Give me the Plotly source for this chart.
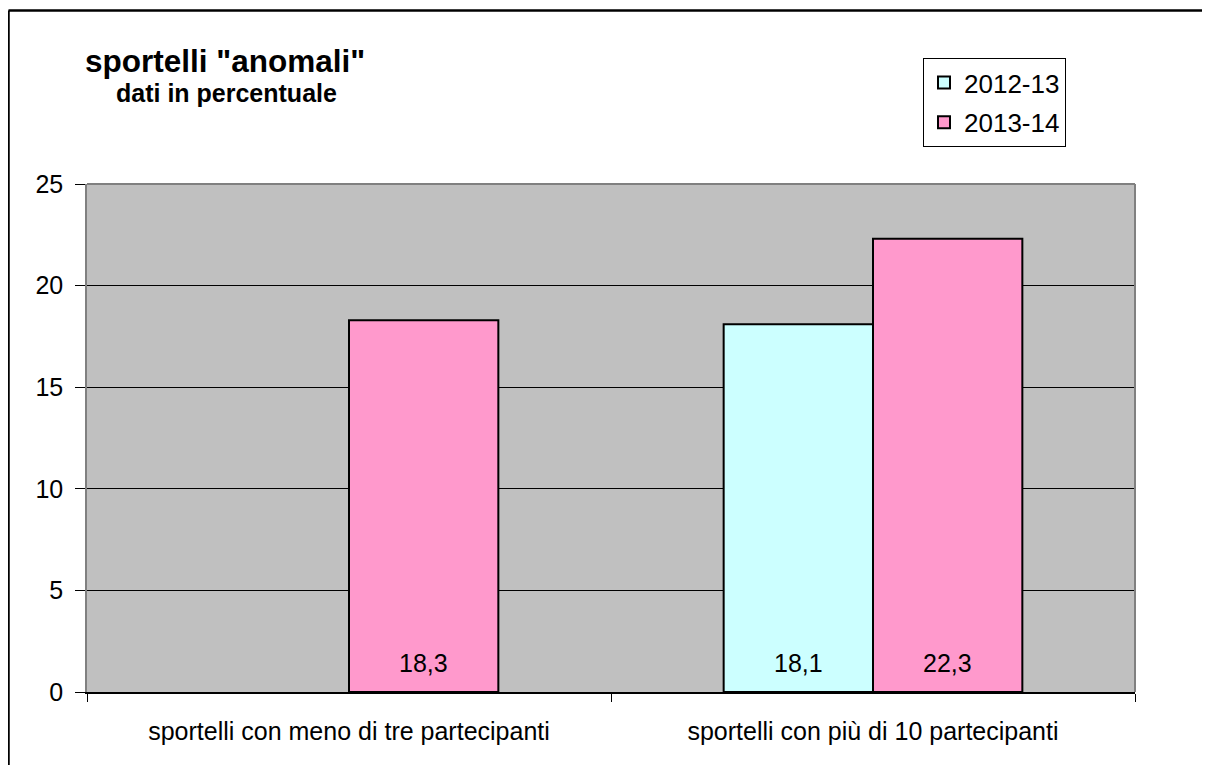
import plotly.graph_objects as go

categories = ["sportelli con meno di tre partecipanti", "sportelli con più di 10 partecipanti"]
series_names = ["2012-13", "2013-14"]
values_2012_13 = [None, 18.1]
values_2013_14 = [18.3, 22.3]
y_ticks = [0, 5, 10, 15, 20, 25]

FONT = "Arial, Liberation Sans, sans-serif"
# page body has an 8px margin, so the figure is drawn 8px smaller and offset
OFF = 8
W, H = 1211 - 2 * OFF, 773 - 2 * OFF
# plot area in screen pixels: x 87..1135, y 184..692
L, T = 87 - OFF, 184 - OFF
R = W - (1135 - OFF)
B = H - (692 - OFF)
pw, ph = W - L - R, H - T - B
BARGAP = 0.43


def px_x(sx):
    return (sx - 87) / pw


def px_y(sy):
    return (692 - sy) / ph


fig = go.Figure()
colors = ["#CCFFFF", "#FF99CC"]
all_vals = [values_2012_13, values_2013_14]
for name, vals, color in zip(series_names, all_vals, colors):
    fig.add_trace(go.Bar(
        name=name, x=categories, y=vals,
        marker=dict(color=color, line=dict(color="black", width=2)),
        legendgroup=name,
    ))

# value labels near the base of each bar
cat_w = pw / len(categories)
bar_w = cat_w * (1 - BARGAP) / len(series_names)
annotations = []
for si, vals in enumerate(all_vals):
    shift = (si - (len(series_names) - 1) / 2) * bar_w
    for cat, v in zip(categories, vals):
        if v is None:
            continue
        annotations.append(dict(
            x=cat, y=0, xref="x", yref="y", text=f"{v:.1f}".replace(".", ","),
            showarrow=False, xshift=shift, yshift=29, xanchor="center", yanchor="middle",
            font=dict(family=FONT, size=25, color="black")))

annotations += [
    dict(text='<b>sportelli "anomali"</b>', xref="paper", yref="paper",
         x=px_x(225), y=px_y(61), xanchor="center", yanchor="middle",
         showarrow=False, font=dict(family=FONT, size=31.5, color="black")),
    dict(text="<b>dati in percentuale</b>", xref="paper", yref="paper",
         x=px_x(226), y=px_y(93), xanchor="center", yanchor="middle",
         showarrow=False, font=dict(family=FONT, size=25, color="black")),
]

fig.update_layout(
    width=W, height=H,
    margin=dict(l=L, r=R, t=T, b=B, autoexpand=False),
    paper_bgcolor="white", plot_bgcolor="#C0C0C0",
    barmode="group", bargap=BARGAP, bargroupgap=0,
    separators=",.",
    font=dict(family=FONT, size=25, color="black"),
    showlegend=True,
    legend=dict(x=px_x(923), y=px_y(58), xanchor="left", yanchor="top",
                bgcolor="white", bordercolor="black", borderwidth=1,
                font=dict(family=FONT, size=26, color="black"),
                traceorder="grouped", tracegroupgap=3),
    xaxis=dict(type="category", showline=True, linecolor="black", linewidth=1.5,
               ticks="outside", tickson="boundaries", ticklen=8, tickcolor="black",
               ticklabelstandoff=16,
               tickfont=dict(family=FONT, size=25, color="black"), showgrid=False),
    yaxis=dict(range=[0, 25], tickvals=y_ticks, showline=True, linecolor="#808080",
               linewidth=1.5, ticks="outside", ticklen=10, tickcolor="black",
               ticklabelstandoff=7,
               showgrid=True, gridcolor="black", gridwidth=1, zeroline=False,
               tickfont=dict(family=FONT, size=25, color="black")),
    shapes=[
        dict(type="line", xref="paper", yref="paper", x0=0, x1=1, y0=1, y1=1,
             line=dict(color="#808080", width=2), layer="above"),
        dict(type="line", xref="paper", yref="paper", x0=1, x1=1, y0=0, y1=1,
             line=dict(color="#808080", width=2), layer="above"),
        dict(type="line", xref="paper", yref="paper", x0=px_x(8.5), x1=px_x(1202),
             y0=px_y(10.5), y1=px_y(10.5), line=dict(color="black", width=2.5)),
        dict(type="line", xref="paper", yref="paper", x0=px_x(8.5), x1=px_x(8.5),
             y0=px_y(10.5), y1=px_y(800), line=dict(color="black", width=2.5)),
    ],
    annotations=annotations,
)

fig.write_html("out.html")
